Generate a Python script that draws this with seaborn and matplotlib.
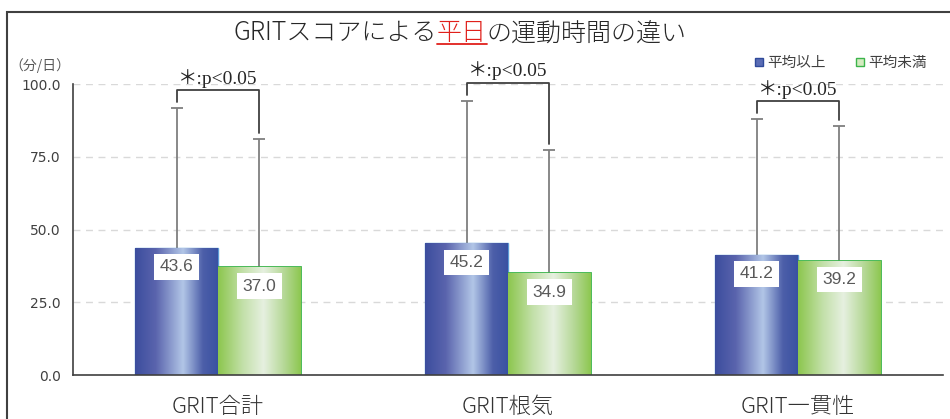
import numpy as np
import pandas as pd
import seaborn as sns
import matplotlib.pyplot as plt
from matplotlib.colors import LinearSegmentedColormap
from matplotlib.lines import Line2D
from matplotlib.patches import Rectangle

# データ
categories = ["GRIT合計", "GRIT根気", "GRIT一貫性"]
groups = ["平均以上", "平均未満"]
mean_above = [43.6, 45.2, 41.2]
mean_below = [37.0, 34.9, 39.2]
sd_above = [48.2, 49.1, 46.8]
sd_below = [44.1, 42.4, 46.3]
sig_labels = ["＊:p<0.05", "＊:p<0.05", "＊:p<0.05"]
y_ticks = [0, 25, 50, 75, 100]

sns.set_theme(style="white")
plt.rcParams["font.family"] = ["Noto Sans CJK JP", "DejaVu Sans"]

df = pd.DataFrame({
    "category": categories * 2,
    "group": [groups[0]] * 3 + [groups[1]] * 3,
    "value": mean_above + mean_below,
    "sd": sd_above + sd_below,
})

fig = plt.figure(figsize=(9.5, 4.19), dpi=100)
ax = fig.add_axes([73 / 950, 44 / 419, 870 / 950, 291 / 419])

sns.barplot(data=df, x="category", y="value", hue="group", order=categories,
            hue_order=groups, palette=["#4a5fa8", "#a9d37e"], width=0.572,
            gap=0, errorbar=None, legend=False, ax=ax, zorder=2)

ax.set_xlim(-0.5, 2.5)
ax.set_ylim(0, 100)

# グラデーション
cm_blue = LinearSegmentedColormap.from_list("b", [
    (0, "#3b4d9e"), (0.25, "#5a64ad"), (0.58, "#b2c6e7"),
    (0.82, "#4d5fa9"), (1, "#3951a2")])
cm_green = LinearSegmentedColormap.from_list("g", [
    (0, "#8cc64e"), (0.3, "#c3e0a9"), (0.55, "#e6f0e0"),
    (0.8, "#b5d896"), (1, "#8dc750")])
grad = np.linspace(0, 1, 256).reshape(1, -1)

bars = ax.patches[:6]
centers = []
for i, p in enumerate(bars):
    blue = i < 3
    p.set_edgecolor("#5b9bd5" if blue else "#3cb44b")
    p.set_linewidth(1.0 if blue else 1.3)
    x0, w, h = p.get_x(), p.get_width(), p.get_height()
    im = ax.imshow(grad, extent=[x0, x0 + w, 0, h], aspect="auto",
                   cmap=cm_blue if blue else cm_green, zorder=2.1)
    im.set_clip_path(p)
    centers.append(x0 + w / 2)
ax.set_xlim(-0.5, 2.5)
ax.set_ylim(0, 100)

# エラーバー（上のみ）
vals = df["value"].to_numpy()
sds = df["sd"].to_numpy()
eb = ax.errorbar(centers, vals, yerr=[np.zeros_like(sds), sds], fmt="none",
                 ecolor="#7f7f7f", elinewidth=1.3, capsize=4, capthick=1.3,
                 zorder=1, clip_on=False)
for cap in eb[1]:
    if np.allclose(cap.get_ydata(), vals):
        cap.set_visible(False)

# 数値ラベル
for xc, v in zip(centers, vals):
    ax.annotate(f"{v:.1f}", (xc, v), xytext=(0, -13.5), textcoords="offset points",
                ha="center", va="center", fontsize=12.5, color="#595959",
                family="Liberation Sans", zorder=5,
                bbox=dict(boxstyle="square,pad=0.3", fc="white", ec="none"))

# 有意差ブラケット
for i in range(3):
    xl, xr = centers[i], centers[i + 3]
    tl, tr = vals[i] + sds[i], vals[i + 3] + sds[i + 3]
    top = max(tl, tr) + 6
    ax.plot([xl, xl, xr, xr], [tl + 2, top, top, tr + 2], color="#404040",
            lw=1.3, clip_on=False, zorder=3)
    ax.annotate(sig_labels[i], ((xl + xr) / 2, top), xytext=(0, 2),
                textcoords="offset points", ha="center", va="bottom",
                fontsize=14, color="#262626", annotation_clip=False,
                family=["Liberation Serif", "Noto Sans CJK JP"])

# 軸
ax.set_yticks(y_ticks)
ax.set_yticklabels([f"{t:.1f}" for t in y_ticks], fontsize=10,
                   family="DejaVu Sans", color="#404040")
ax.tick_params(axis="y", length=0, pad=9)
ax.tick_params(axis="x", length=0, pad=15, labelsize=16, labelcolor="#333333")
for lbl in ax.get_xticklabels():
    lbl.set_fontweight("light")
ax.set_xlabel("")
ax.set_ylabel("")
ax.grid(axis="y", color="#d9d9d9", linestyle=(0, (5, 4)), lw=1)
ax.set_axisbelow(True)
for s in ["top", "right"]:
    ax.spines[s].set_visible(False)
for s in ["left", "bottom"]:
    ax.spines[s].set_color("#404040")
    ax.spines[s].set_linewidth(1.2)

fig.text(40 / 950, 1 - 66 / 419, "（分/日）", ha="center", va="center",
         fontsize=10, color="#595959")

# 凡例
handles = [
    Line2D([], [], marker="s", ls="", ms=6, mfc="#5a6cb5", mec="#2f4a9a", label=groups[0]),
    Line2D([], [], marker="s", ls="", ms=6, mfc="#d4ebc0", mec="#3cb44b", label=groups[1]),
]
fig.legend(handles=handles, loc="center right", bbox_to_anchor=(940 / 950, 1 - 63 / 419),
           ncol=2, frameon=False, fontsize=10.5, handlelength=0.6, handletextpad=0.3,
           columnspacing=2.0, labelcolor="#404040")

# タイトル（「平日」を赤・下線）
title_parts = [("GRITスコアによる", "#262626"), ("平日", "#e0201b"), ("の運動時間の違い", "#262626")]
renderer = fig.canvas.get_renderer()
texts = [fig.text(0, 1 - 33 / 419, s, color=c, fontsize=18, va="center", weight="light")
         for s, c in title_parts]
widths = [t.get_window_extent(renderer).width for t in texts]
x = 460 - sum(widths) / 2
for t, w in zip(texts, widths):
    t.set_x(x / 950)
    x += w
bb = texts[1].get_window_extent(renderer)
fig.add_artist(Line2D([bb.x0 / 950, bb.x1 / 950], [(bb.y0 + 2) / 419] * 2,
                      color="#e0201b", lw=1.3))

# 外枠
fig.add_artist(Rectangle((7 / 950, -0.2), 1.2, 1.2 - 12 / 419, fill=False,
                         ec="#404040", lw=1.5, transform=fig.transFigure))

fig.savefig("out.png", dpi=100)
